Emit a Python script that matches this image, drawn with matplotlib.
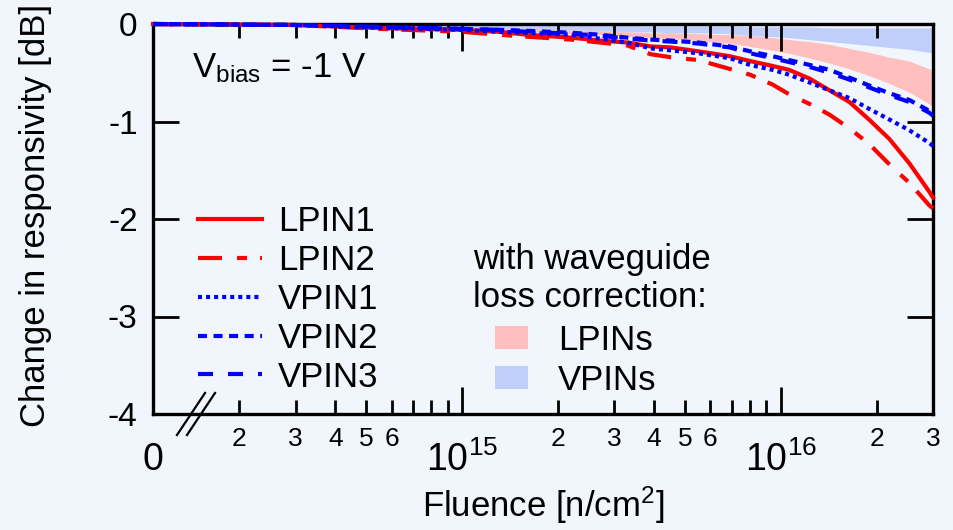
import numpy as np
import matplotlib
matplotlib.use("Agg")
import matplotlib.pyplot as plt
import matplotlib.transforms as mtransforms
from matplotlib.ticker import FixedLocator, FixedFormatter
from matplotlib.patches import Patch

plt.rcParams['font.family'] = ['Liberation Sans', 'DejaVu Sans']
plt.rcParams['mathtext.fontset'] = 'custom'
plt.rcParams['mathtext.rm'] = 'Liberation Sans'
plt.rcParams['mathtext.it'] = 'Liberation Sans:italic'
plt.rcParams['mathtext.bf'] = 'Liberation Sans:bold'
plt.rcParams['lines.scale_dashes'] = False

# ---------------- data ----------------
fluence = [0, 3e14, 5.5e14, 1.0e15, 1.3e15, 1.6e15, 2.2e15, 2.7e15, 3.3e15, 3.9e15,
           4.5e15, 5.5e15, 6.9e15, 8.0e15, 9.4e15, 1.06e16, 1.23e16, 1.42e16,
           1.64e16, 1.89e16, 2.19e16, 2.53e16, 2.92e16, 3.0e16]

lpin1 = [0, -0.01, -0.04, -0.06, -0.08, -0.11, -0.14, -0.17, -0.19, -0.23, -0.24, -0.28,
         -0.33, -0.38, -0.43, -0.47, -0.56, -0.68, -0.80, -0.98, -1.18, -1.43, -1.72, -1.78]
lpin2 = [0, -0.01, -0.05, -0.08, -0.11, -0.13, -0.16, -0.19, -0.22, -0.31, -0.34, -0.37,
         -0.46, -0.52, -0.62, -0.72, -0.82, -0.93, -1.07, -1.23, -1.44, -1.63, -1.86, -1.89]
vpin1 = [0, -0.01, -0.04, -0.06, -0.08, -0.09, -0.11, -0.15, -0.19, -0.25, -0.27, -0.30,
         -0.35, -0.42, -0.47, -0.52, -0.60, -0.68, -0.76, -0.87, -0.98, -1.09, -1.22, -1.25]
vpin2 = [0, -0.01, -0.03, -0.05, -0.06, -0.07, -0.09, -0.11, -0.14, -0.16, -0.17, -0.19,
         -0.23, -0.28, -0.33, -0.37, -0.42, -0.47, -0.55, -0.63, -0.71, -0.78, -0.89, -0.92]
vpin3 = [0, -0.01, -0.03, -0.05, -0.06, -0.08, -0.10, -0.12, -0.15, -0.17, -0.18, -0.20,
         -0.24, -0.30, -0.35, -0.39, -0.44, -0.50, -0.57, -0.65, -0.73, -0.80, -0.91, -0.94]

# waveguide-loss-corrected ranges
lpins_upper = [0, 0, -0.01, -0.02, -0.03, -0.04, -0.06, -0.07, -0.08, -0.09, -0.09, -0.10,
               -0.11, -0.12, -0.14, -0.16, -0.18, -0.21, -0.25, -0.29, -0.34, -0.38, -0.46, -0.48]
lpins_lower = [0, -0.01, -0.03, -0.05, -0.06, -0.08, -0.10, -0.11, -0.13, -0.14, -0.15, -0.17,
               -0.20, -0.23, -0.27, -0.30, -0.35, -0.40, -0.46, -0.53, -0.61, -0.70, -0.82, -0.85]
vpins_upper = [0, -0.005, -0.01, -0.01, -0.01, -0.01, -0.01, -0.01, -0.015, -0.02, -0.02, -0.02,
               -0.02, -0.03, -0.03, -0.03, -0.03, -0.04, -0.04, -0.04, -0.04, -0.04, -0.04, -0.04]
vpins_lower = [0, -0.01, -0.02, -0.03, -0.04, -0.05, -0.06, -0.07, -0.08, -0.08, -0.09, -0.09,
               -0.10, -0.12, -0.13, -0.14, -0.16, -0.18, -0.20, -0.22, -0.24, -0.26, -0.29, -0.30]

series_labels = ['LPIN1', 'LPIN2', 'VPIN1', 'VPIN2', 'VPIN3']
band_labels = ['LPINs', 'VPINs']

x_major = [1e15, 1e16]
x_major_labels = [r'$10^{15}$', r'$10^{16}$']
x_minor = [2e14, 3e14, 4e14, 5e14, 6e14, 7e14, 8e14, 9e14,
           2e15, 3e15, 4e15, 5e15, 6e15, 7e15, 8e15, 9e15, 2e16, 3e16]
x_minor_labels = ['2', '3', '4', '5', '6', '', '', '',
                  '2', '3', '4', '5', '6', '', '', '', '2', '3']
y_ticks = [0, -1, -2, -3, -4]
y_tick_labels = ['0', '-1', '-2', '-3', '-4']

# ---------------- figure ----------------
W, H = 954, 530
fig = plt.figure(figsize=(W / 100, H / 100), dpi=100)
bg = '#F1F6FC'
fig.patch.set_facecolor(bg)

L, R, T, B = 153, 933, 24, 414
ax = fig.add_axes([L / W, 1 - B / H, (R - L) / W, (B - T) / H])
ax.set_facecolor(bg)
ax.set_xscale('log')
x_right = 3e16
x_left = 10 ** (np.log10(x_right) - (R - L) / 318.7)   # broken-axis origin ("0")
ax.set_xlim(x_left, x_right)
ax.set_ylim(-4, 0)

xf = np.array(fluence, dtype=float)
xplot = np.where(xf == 0, x_left, xf)

pink, lblue = '#FFBFBF', '#C0CEFA'
ax.fill_between(xplot, lpins_lower, lpins_upper, color=pink, lw=0, zorder=1)
ax.fill_between(xplot, vpins_lower, vpins_upper, color=lblue, lw=0, zorder=1.1)

lw = 3.0
red, blue = '#FF0000', '#0000FF'
styles = [
    (lpin1, red, '-'),
    (lpin2, red, (0, (17.3, 10.8, 7.2, 9.4))),
    (vpin1, blue, (0, (2.9, 2.9))),
    (vpin2, blue, (0, (6.5, 4.7))),
    (vpin3, blue, (0, (10.8, 10.8))),
]
handles = []
for (vals, c, ls), lab in zip(styles, series_labels):
    h, = ax.plot(xplot, vals, color=c, lw=lw, linestyle=ls, label=lab,
                 clip_on=False, zorder=3)
    handles.append(h)

# ticks
ax.xaxis.set_major_locator(FixedLocator(x_major))
ax.xaxis.set_major_formatter(FixedFormatter(x_major_labels))
ax.xaxis.set_minor_locator(FixedLocator(x_minor))
ax.xaxis.set_minor_formatter(FixedFormatter(x_minor_labels))
ax.set_yticks(y_ticks)
ax.set_yticklabels(y_tick_labels)

ax.tick_params(which='both', direction='in', top=True, right=True, width=2.0, color='black')
ax.tick_params(axis='x', which='major', length=19.5, labelsize=27, pad=20)
ax.tick_params(axis='x', which='minor', length=10, labelsize=19, pad=9)
ax.tick_params(axis='y', which='major', length=19, labelsize=24, pad=11)
for sp in ax.spines.values():
    sp.set_linewidth(2.4)
    sp.set_zorder(2.5)

# "0" of the broken axis
trans = mtransforms.blended_transform_factory(ax.transData, ax.transAxes)
ax.text(x_left, (B - 460) / (B - T), '0', fontsize=27, ha='center', va='center',
        transform=trans)

# break marks
for x0 in (177, 187):
    xs = [(x0 - L) / (R - L), (x0 + 28 - L) / (R - L)]
    ys = [(B - 435) / (B - T), (B - 393) / (B - T)]
    ax.plot(xs, ys, transform=ax.transAxes, color='black', lw=1.6, clip_on=False, zorder=4)

FS = 25
ax.set_ylabel('Change in responsivity [dB]', fontsize=FS)
ax.yaxis.set_label_coords((52 - L) / (R - L), 0.508)
ax.set_xlabel(r'Fluence [n/cm$^2$]', fontsize=FS, va='baseline')
ax.xaxis.set_label_coords(0.5, (B - 517) / (B - T))

fig.text(192 / W, 1 - 77 / H, r'V$_\mathregular{bias}$ = -1 V', fontsize=FS, va='baseline')

leg1 = ax.legend(handles=handles, loc='upper left',
                 bbox_to_anchor=((198 - L) / (R - L), (B - 205) / (B - T)),
                 frameon=False, fontsize=FS, handlelength=1.85, handletextpad=0.46,
                 labelspacing=0.17, borderpad=0, borderaxespad=0)
ax.add_artist(leg1)

fig.text(473 / W, 1 - 269 / H, 'with waveguide', fontsize=FS, va='baseline')
fig.text(473 / W, 1 - 307 / H, 'loss correction:', fontsize=FS, va='baseline')

band_handles = [Patch(facecolor=pink, edgecolor='none', label=band_labels[0]),
                Patch(facecolor=lblue, edgecolor='none', label=band_labels[1])]
ax.legend(handles=band_handles, loc='upper left',
          bbox_to_anchor=((495 - L) / (R - L), (B - 324) / (B - T)),
          frameon=False, fontsize=FS, handlelength=0.95, handleheight=0.63,
          handletextpad=0.86, labelspacing=0.19, borderpad=0, borderaxespad=0)

fig.savefig('out.png', dpi=100, facecolor=fig.get_facecolor())
